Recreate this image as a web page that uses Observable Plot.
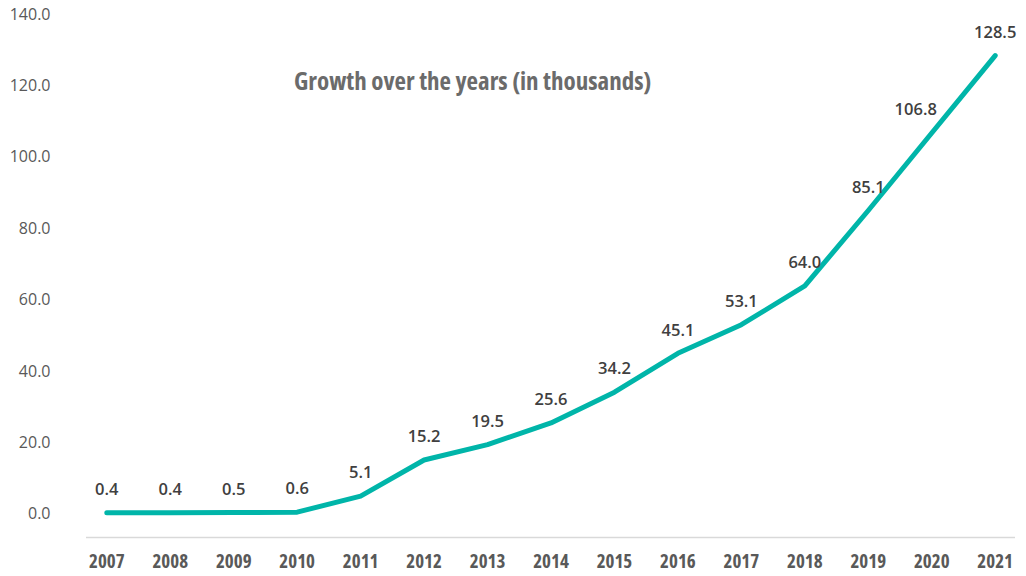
<!DOCTYPE html>
<html>
<head>
<meta charset="utf-8">
<script src="https://cdn.jsdelivr.net/npm/d3@7"></script>
<script src="https://cdn.jsdelivr.net/npm/@observablehq/plot@0.6"></script>
<style>
  html, body { margin: 0; padding: 0; background: #fff; }
  #chart { position: relative; width: 1026px; height: 576px; }
  #title { position: absolute; left: 294px; top: 63px; font-family: "Open Sans", sans-serif; font-stretch: 75%; font-weight: bold; font-size: 25px; color: #6b6b6b; white-space: nowrap; }
  .xax text { font-stretch: 75%; }
</style>
</head>
<body>
<div id="chart"><div id="title">Growth over the years (in thousands)</div></div>
<script>
const years = ["2007","2008","2009","2010","2011","2012","2013","2014","2015","2016","2017","2018","2019","2020","2021"];
const values = [0.4, 0.4, 0.5, 0.6, 5.1, 15.2, 19.5, 25.6, 34.2, 45.1, 53.1, 64.0, 85.1, 106.8, 128.5];
const yTicks = [0, 20, 40, 60, 80, 100, 120, 140];
const title = "Growth over the years (in thousands)";

const data = years.map((y, i) => ({year: y, value: values[i]}));
const lastIdx = years.length - 2; // 2020 label sits left of the line

const plot = Plot.plot({
  width: 1026,
  height: 576,
  marginLeft: 86,
  marginRight: 11,
  marginTop: 14,
  marginBottom: 39,
  style: {fontFamily: "'Open Sans', sans-serif", background: "transparent"},
  x: {type: "point", domain: years, padding: 0.32, round: false, label: null},
  y: {domain: [-6.5, 140], label: null},
  marks: [
    Plot.ruleY([-6.5], {stroke: "#d9d9d9", strokeWidth: 1.5}),
    Plot.axisY(yTicks, {tickSize: 0, tickPadding: 36, tickFormat: d => d.toFixed(1), fontSize: 16, fill: "#595959", label: null}),
    Plot.axisX({className: "xax", tickSize: 0, tickPadding: 17, fontSize: 19, fontWeight: "bold", fill: "#595959", label: null}),
    Plot.line(data, {x: "year", y: "value", stroke: "#00b5a9", strokeWidth: 5, strokeLinecap: "round", strokeLinejoin: "round"}),
    Plot.text(data.filter((d, i) => i !== lastIdx), {x: "year", y: "value", text: d => d.value.toFixed(1), dy: -23, fontSize: 16.5, fontWeight: 600, fill: "#404040"}),
    Plot.text(data.filter((d, i) => i === lastIdx), {x: "year", y: "value", text: d => d.value.toFixed(1), dx: -16, dy: -23, fontSize: 16.5, fontWeight: 600, fill: "#404040"})
  ]
});
document.getElementById("chart").appendChild(plot);
</script>
</body>
</html>
